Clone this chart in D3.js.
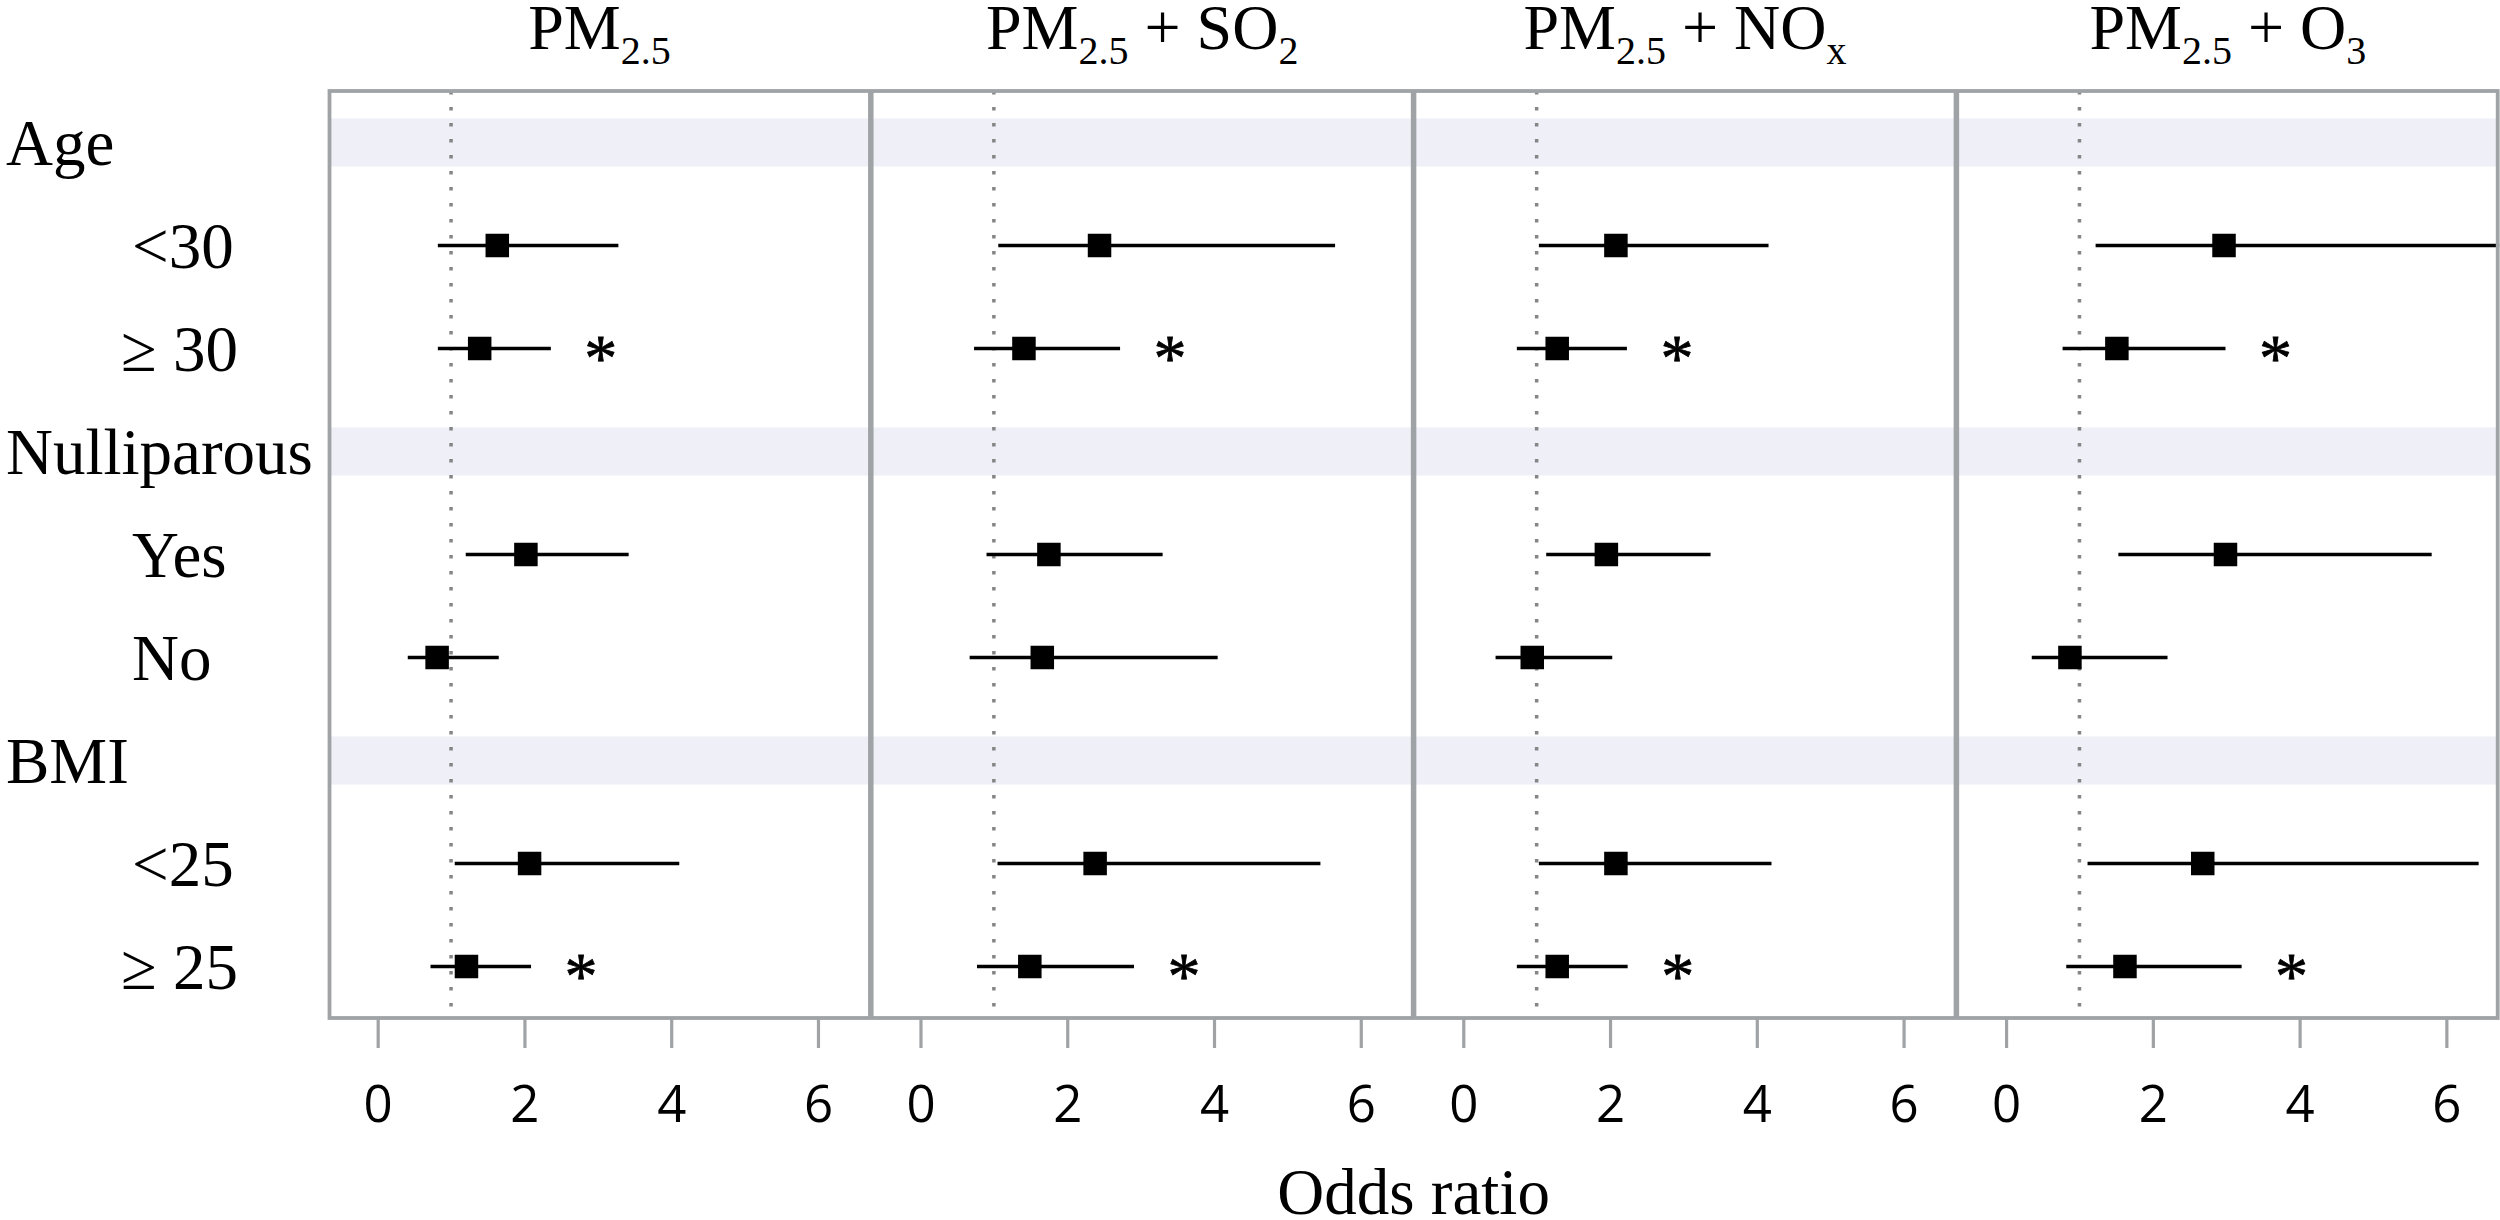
<!DOCTYPE html>
<html>
<head>
<meta charset="utf-8">
<script src="https://cdn.jsdelivr.net/npm/d3@7"></script>
<style>
  html, body { margin: 0; padding: 0; background: #ffffff; }
  svg { display: block; }
</style>
</head>
<body>
<svg id="chart" width="2500" height="1220"></svg>
<script>
// ---------------- DATA ----------------
const rowLabels = ["Age", "<30", "≥ 30", "Nulliparous", "Yes", "No", "BMI", "<25", "≥ 25"];
const headerRows = ["Age", "Nulliparous", "BMI"];
const subgroups = ["<30", "≥ 30", "Yes", "No", "<25", "≥ 25"];

// panel titles as [text, isSubscript] segments
const titlePM25 = [["PM", false], ["2.5", true]];
const titleSO2  = [["PM", false], ["2.5", true], [" + SO", false], ["2", true]];
const titleNOx  = [["PM", false], ["2.5", true], [" + NO", false], ["x", true]];
const titleO3   = [["PM", false], ["2.5", true], [" + O", false], ["3", true]];

// odds ratios and 95% CI (lower, upper), one value per subgroup
const orPM25 = [1.63, 1.39, 2.02, 0.81, 2.07, 1.21];
const loPM25 = [0.82, 0.82, 1.20, 0.41, 1.05, 0.72];
const hiPM25 = [3.28, 2.36, 3.42, 1.65, 4.11, 2.09];

const orSO2 = [2.44, 1.41, 1.75, 1.66, 2.38, 1.49];
const loSO2 = [1.06, 0.73, 0.90, 0.67, 1.05, 0.77];
const hiSO2 = [5.65, 2.72, 3.30, 4.05, 5.45, 2.91];

const orNOx = [2.08, 1.28, 1.95, 0.94, 2.08, 1.28];
const loNOx = [1.03, 0.73, 1.13, 0.44, 1.03, 0.73];
const hiNOx = [4.16, 2.23, 3.37, 2.03, 4.20, 2.24];

const orO3 = [2.97, 1.51, 2.99, 0.87, 2.68, 1.62];
const loO3 = [1.22, 0.77, 1.53, 0.35, 1.11, 0.82];
const hiO3 = [7.00, 2.99, 5.80, 2.20, 6.44, 3.21];

// significance marker (*) per subgroup
const significant = [false, true, false, false, false, true];

const xTicks = [0, 2, 4, 6];
const xDomain = [-0.677, 6.72];
const referenceOR = 1;
const xAxisTitle = "Odds ratio";

// ---------------- LAYOUT ----------------
const panels = [
  { title: titlePM25, or: orPM25, lo: loPM25, hi: hiPM25 },
  { title: titleSO2,  or: orSO2,  lo: loSO2,  hi: hiSO2 },
  { title: titleNOx,  or: orNOx,  lo: loNOx,  hi: hiNOx },
  { title: titleO3,   or: orO3,   lo: loO3,   hi: hiO3 }
];

const serif = "'Liberation Serif', 'Times New Roman', serif";
const sans = "'Open Sans', 'Noto Sans', sans-serif";
const borderColor = "#9fa3a6";
const bandColor = "#eeeff7";

const plotLeft = 328, plotTop = 91, plotBottom = 1018;
const panelW = 542.8;
const plotRight = plotLeft + panelW * panels.length;

const svg = d3.select("#chart");

const panelX = d3.scaleBand()
  .domain(d3.range(panels.length))
  .range([plotLeft, plotRight])
  .padding(0);

const x = d3.scaleLinear().domain(xDomain).range([0, panelW]);

const y = d3.scaleBand()
  .domain(rowLabels)
  .range([plotTop, plotBottom])
  .padding(0);

const defs = svg.append("defs");

// Row labels
svg.append("g").selectAll("text")
  .data(rowLabels)
  .join("text")
  .attr("x", d => headerRows.includes(d) ? 6 : (d.startsWith("≥") ? 121 : 132))
  .attr("y", d => y(d) + y.bandwidth() / 2)
  .attr("dy", "0.35em")
  .attr("font-family", serif)
  .attr("font-size", 65)
  .attr("fill", "#000")
  .text(d => d);

panels.forEach((p, pi) => {
  const px = panelX(pi);
  const g = svg.append("g").attr("transform", `translate(${px},0)`);

  defs.append("clipPath").attr("id", "clip" + pi)
    .append("rect")
    .attr("x", 0).attr("y", plotTop)
    .attr("width", panelW).attr("height", plotBottom - plotTop);

  const inner = g.append("g").attr("clip-path", `url(#clip${pi})`);

  // header shading bands
  inner.selectAll("rect.band")
    .data(headerRows)
    .join("rect")
    .attr("class", "band")
    .attr("x", 0)
    .attr("width", panelW)
    .attr("y", d => y(d) + y.bandwidth() / 2 - 24)
    .attr("height", 48)
    .attr("fill", bandColor);

  // reference line at OR = 1
  inner.append("line")
    .attr("x1", x(referenceOR)).attr("x2", x(referenceOR))
    .attr("y1", plotTop).attr("y2", plotBottom)
    .attr("stroke", "#858585")
    .attr("stroke-width", 3.5)
    .attr("stroke-dasharray", "3.5 12.5");

  const rows = subgroups.map((s, i) => ({
    label: s, or: p.or[i], lo: p.lo[i], hi: p.hi[i], sig: significant[i]
  }));

  // CI lines
  inner.selectAll("line.ci")
    .data(rows)
    .join("line")
    .attr("class", "ci")
    .attr("x1", d => x(d.lo))
    .attr("x2", d => x(d.hi))
    .attr("y1", d => y(d.label) + y.bandwidth() / 2)
    .attr("y2", d => y(d.label) + y.bandwidth() / 2)
    .attr("stroke", "#000")
    .attr("stroke-width", 3.5);

  // point estimates
  const sq = 23.5;
  inner.selectAll("rect.pt")
    .data(rows)
    .join("rect")
    .attr("class", "pt")
    .attr("x", d => x(d.or) - sq / 2)
    .attr("y", d => y(d.label) + y.bandwidth() / 2 - sq / 2)
    .attr("width", sq)
    .attr("height", sq)
    .attr("fill", "#000");

  // significance asterisks
  inner.selectAll("text.sig")
    .data(rows.filter(d => d.sig))
    .join("text")
    .attr("class", "sig")
    .attr("x", d => x(d.hi) + 50)
    .attr("y", d => y(d.label) + y.bandwidth() / 2)
    .attr("dy", "0.47em")
    .attr("text-anchor", "middle")
    .attr("font-family", serif)
    .attr("font-size", 66)
    .attr("stroke", "#000")
    .attr("stroke-width", 0.8)
    .text("*");

  // x axis
  const axis = d3.axisBottom(x).tickValues(xTicks).tickSize(30).tickFormat(d3.format("d"));
  const ag = g.append("g").attr("transform", `translate(0,${plotBottom})`).call(axis);
  ag.select(".domain").remove();
  ag.selectAll(".tick line").attr("stroke", borderColor).attr("stroke-width", 3.2);
  ag.selectAll(".tick text")
    .attr("y", 104)
    .attr("dy", 0)
    .attr("font-family", sans)
    .attr("font-size", 51)
    .attr("fill", "#000");

  // title
  const t = g.append("text")
    .attr("x", panelW / 2)
    .attr("y", 49)
    .attr("text-anchor", "middle")
    .attr("font-family", serif)
    .attr("font-size", 64)
    .attr("fill", "#000");
  let prevSub = false;
  p.title.forEach(([txt, sub]) => {
    const ts = t.append("tspan").text(txt);
    if (sub) {
      ts.attr("font-size", 40).attr("dy", prevSub ? 0 : 15);
    } else if (prevSub) {
      ts.attr("dy", -15);
    }
    prevSub = sub;
  });
});

// borders
svg.append("rect")
  .attr("x", plotLeft + 1.5)
  .attr("y", plotTop)
  .attr("width", plotRight - plotLeft - 3)
  .attr("height", plotBottom - plotTop)
  .attr("fill", "none")
  .attr("stroke", borderColor)
  .attr("stroke-width", 3.8);

svg.append("g").selectAll("line")
  .data(d3.range(1, panels.length))
  .join("line")
  .attr("x1", d => panelX(d)).attr("x2", d => panelX(d))
  .attr("y1", plotTop).attr("y2", plotBottom)
  .attr("stroke", borderColor)
  .attr("stroke-width", 5.5);

// x axis title
svg.append("text")
  .attr("x", (plotLeft + plotRight) / 2)
  .attr("y", 1214)
  .attr("text-anchor", "middle")
  .attr("font-family", serif)
  .attr("font-size", 65)
  .attr("fill", "#000")
  .text(xAxisTitle);
</script>
</body>
</html>
